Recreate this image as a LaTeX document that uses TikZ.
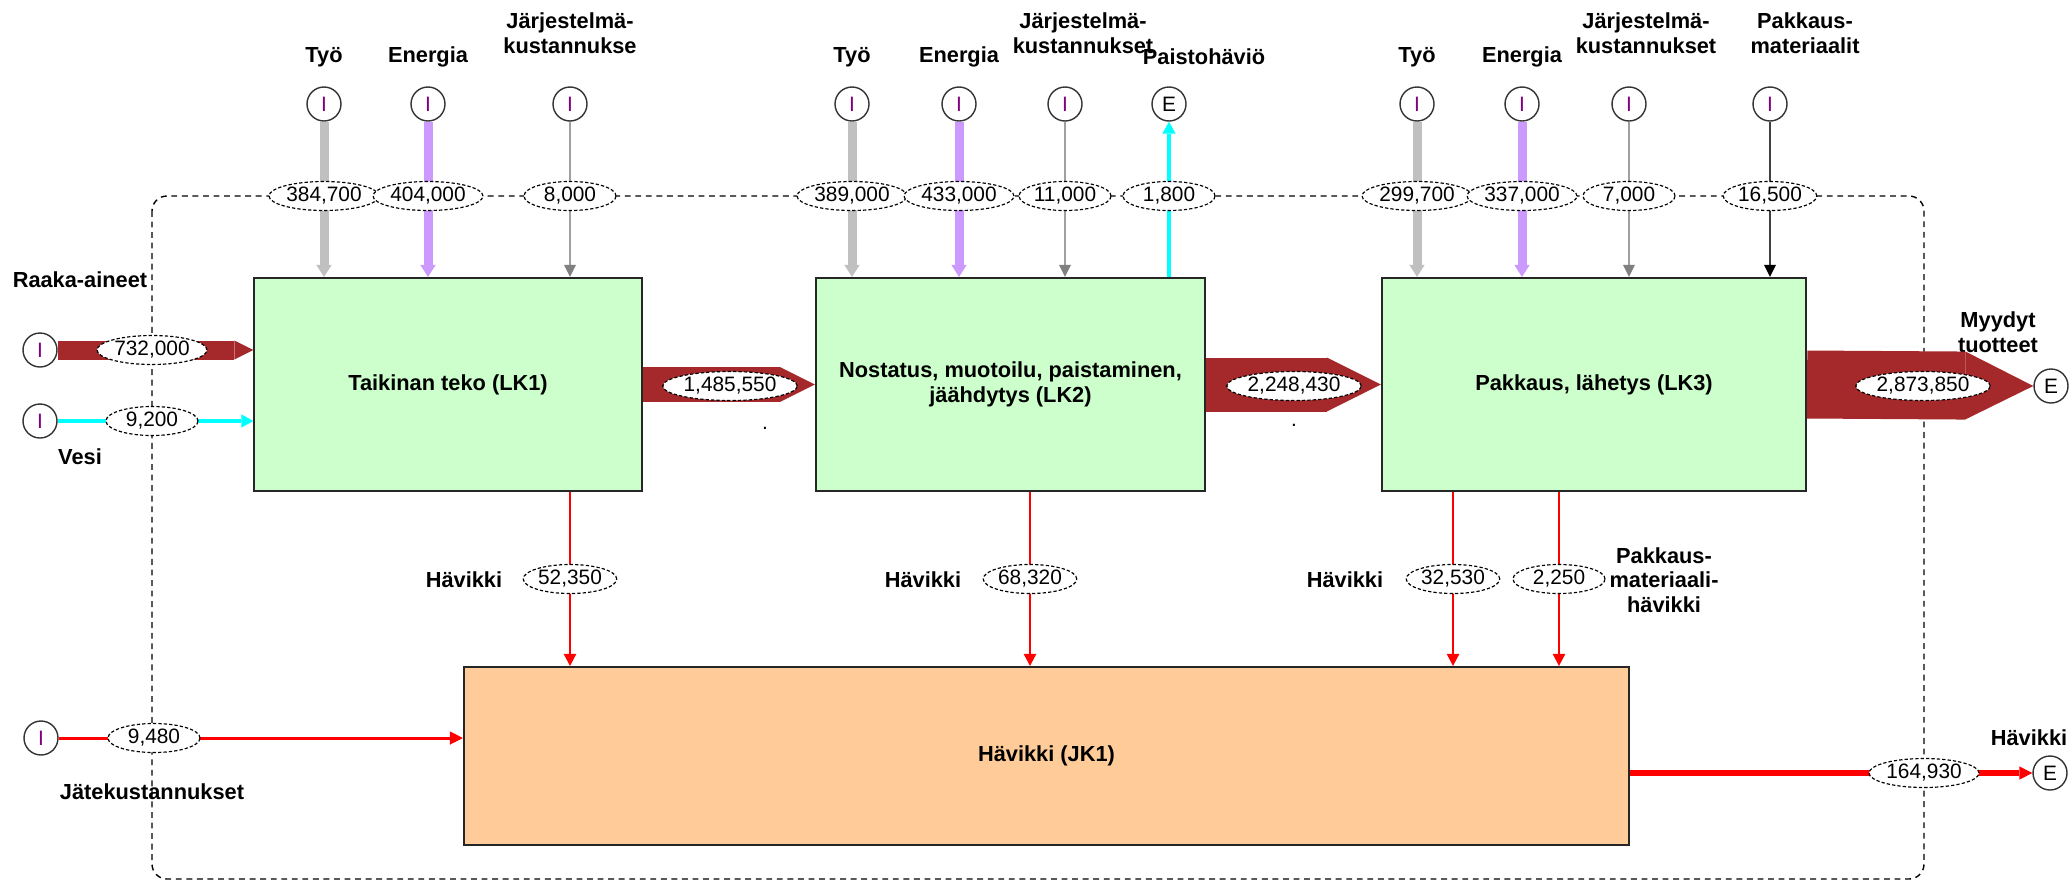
\documentclass[tikz,border=0pt]{standalone}
\usepackage{fontspec}
\setmainfont{Liberation Sans}
\usetikzlibrary{shapes.geometric,arrows.meta}
\definecolor{flowred}{RGB}{165,40,42}
\definecolor{tyogray}{RGB}{192,192,192}
\definecolor{enviolet}{RGB}{204,153,255}
\definecolor{sysgray}{RGB}{160,160,160}
\definecolor{pakgray}{RGB}{64,64,64}
\definecolor{watercyan}{RGB}{0,255,255}
\definecolor{lossred}{RGB}{255,0,0}
\definecolor{lkgreen}{RGB}{204,255,204}
\definecolor{jkpeach}{RGB}{255,204,153}
\definecolor{ipurple}{RGB}{128,0,128}
\newcommand{\lblfont}{\fontsize{9.3}{10.5}\selectfont\bfseries}
\newcommand{\numfont}{\fontsize{8.9}{10}\selectfont}
\newcommand{\srcI}{\textcolor{ipurple}{I}}
\tikzset{
  lbl/.style={font=\lblfont,align=center,inner sep=0pt},
  num/.style={ellipse,draw=black,line width=0.5pt,dash pattern=on 1.4pt off 0.9pt,fill=white,font=\numfont,inner xsep=0.5pt,inner ysep=0pt,minimum height=0.435cm,minimum width=1.38cm},
  src/.style={circle,draw=black!80,fill=white,line width=0.6pt,minimum size=0.51cm,inner sep=0pt,font=\numfont},
  proc/.style={rectangle,draw=black!85,line width=0.9pt,fill=lkgreen,font=\lblfont,align=center,minimum height=3.195cm},
  bigflow/.style={draw=flowred,line width=#1,-{Triangle[length=#1,width=#1,line width=0pt]}},
  tyoflow/.style={draw=tyogray,line width=0.135cm,-{Triangle[length=0.18cm,width=0.23cm,line width=0pt]}},
  enflow/.style={draw=enviolet,line width=0.135cm,-{Triangle[length=0.18cm,width=0.23cm,line width=0pt]}},
  sysflow/.style={draw=sysgray,line width=0.03cm,-{Triangle[length=0.18cm,width=0.18cm,line width=0pt,color=gray]}},
  pakflow/.style={draw=pakgray,line width=0.035cm,-{Triangle[length=0.18cm,width=0.18cm,line width=0pt,color=black]}},
  waterflow/.style={draw=watercyan,line width=0.05cm,-{Triangle[length=0.18cm,width=0.2cm,line width=0pt]}},
  lossflow/.style={draw=lossred,line width=0.025cm,-{Triangle[length=0.18cm,width=0.19cm,line width=0pt]}},
  jateflow/.style={draw=lossred,line width=0.045cm,-{Triangle[length=0.195cm,width=0.2cm,line width=0pt]}},
  houtflow/.style={draw=lossred,line width=0.1cm,-{Triangle[length=0.195cm,width=0.2cm,line width=0pt]}}
}
\begin{document}
\begin{tikzpicture}[x=0.015cm,y=-0.015cm]
\useasboundingbox (0,0) rectangle (2072,884);
\draw[dash pattern=on 2.5pt off 2pt,line width=0.6pt,rounded corners=0.225cm] (152,196) rectangle (1924,879);
\node[proc,minimum width=5.81cm] (lk1) at (448,384.5) {Taikinan teko (LK1)};
\node[proc,minimum width=5.835cm] (lk2) at (1010.5,384.5) {Nostatus, muotoilu, paistaminen,\\jäähdytys (LK2)};
\node[proc,minimum width=6.36cm] (lk3) at (1594,384.5) {Pakkaus, lähetys (LK3)};
\node[proc,fill=jkpeach,minimum width=17.475cm,minimum height=2.67cm] (jk1) at (1046.5,756) {Hävikki (JK1)};
\foreach \kx/\klx/\kly/\klb/\kval/\kst/\kbox in {324/324/57/{Työ}/{384,700}/tyoflow/lk1,
  428/428/57/{Energia}/{404,000}/enflow/lk1,
  570/570/33.5/{Järjestelmä-\\kustannukse}/{8,000}/sysflow/lk1,
  852/852/57/{Työ}/{389,000}/tyoflow/lk2,
  959/959/57/{Energia}/{433,000}/enflow/lk2,
  1065/1083/33.5/{Järjestelmä-\\kustannukset}/{11,000}/sysflow/lk2,
  1417/1417/57/{Työ}/{299,700}/tyoflow/lk3,
  1522/1522/57/{Energia}/{337,000}/enflow/lk3,
  1629/1646/33.5/{Järjestelmä-\\kustannukset}/{7,000}/sysflow/lk3,
  1770/1805/33.5/{Pakkaus-\\materiaalit}/{16,500}/pakflow/lk3}{
  \node[src] (in\kx) at (\kx,104) {\srcI};
  \node[lbl] (lbl\kx) at (\klx,\kly) {\klb};
  \draw[\kst] (in\kx) -- (in\kx |- \kbox.north);
  \node[num] (val\kx) at (\kx,196) {\kval};
}
\node[src] (paisto) at (1169,104) {E};
\node[lbl] (lblpaisto) at (1204,57) {Paistohäviö};
\draw[waterflow] (lk2.north -| paisto) -- (paisto.south);
\node[num] (valpaisto) at (1169,196) {1,800};
\node[src] (raaka) at (40,350) {\srcI};
\node[lbl] (lblraaka) at (80,280) {Raaka-aineet};
\node[src] (vesi) at (40,421) {\srcI};
\node[lbl] (lblvesi) at (80,457) {Vesi};
\node[src] (jate) at (41,738) {\srcI};
\node[lbl] (lbljate) at (152,792) {Jätekustannukset};
\node[src] (eout) at (2051,386) {E};
\node[lbl] (lbleout) at (1998,332) {Myydyt\\tuotteet};
\node[src] (hout) at (2050,773) {E};
\node[lbl] (lblhout) at (2029,738) {Hävikki};
\draw[bigflow=0.285cm] (raaka.east) -- (raaka -| lk1.west);
\draw[waterflow] (vesi.east) -- (vesi -| lk1.west);
\draw[bigflow=0.525cm] (lk1.east) -- (lk2.west);
\draw[bigflow=0.81cm] (lk2.east) -- (lk3.west);
\draw[bigflow=1.02cm] (lk3.east) -- (eout.west);
\draw[jateflow] (jate.east) -- (jate -| jk1.west);
\draw[houtflow] (jk1.east |- hout) -- (hout.west);
\node[num] (valraaka) at (152,350) {732,000};
\node[num] (valvesi) at (152,421) {9,200};
\node[num] (vallk1) at (730,386) {1,485,550};
\node[num] (vallk2) at (1294,386) {2,248,430};
\node[num] (valeout) at (1923,386) {2,873,850};
\node[num] (valjate) at (154,738) {9,480};
\node[num] (valhout) at (1924,773) {164,930};
\node[font=\numfont,inner sep=0pt] (dot1) at (765,428) {.};
\node[font=\numfont,inner sep=0pt] (dot2) at (1294,425) {.};
\foreach \kx/\kval/\kbox in {570/{52,350}/lk1,1030/{68,320}/lk2,1453/{32,530}/lk3,1559/{2,250}/lk3}{
  \draw[lossflow] (\kbox.south -| \kx,0) -- (jk1.north -| \kx,0);
  \node[num] (loss\kx) at (\kx,579) {\kval};
}
\foreach \kx in {464,923,1345}{\node[lbl] (hav\kx) at (\kx,580) {Hävikki};}
\node[lbl] (lblpakhav) at (1664,580) {Pakkaus-\\materiaali-\\hävikki};
\end{tikzpicture}
\end{document}
